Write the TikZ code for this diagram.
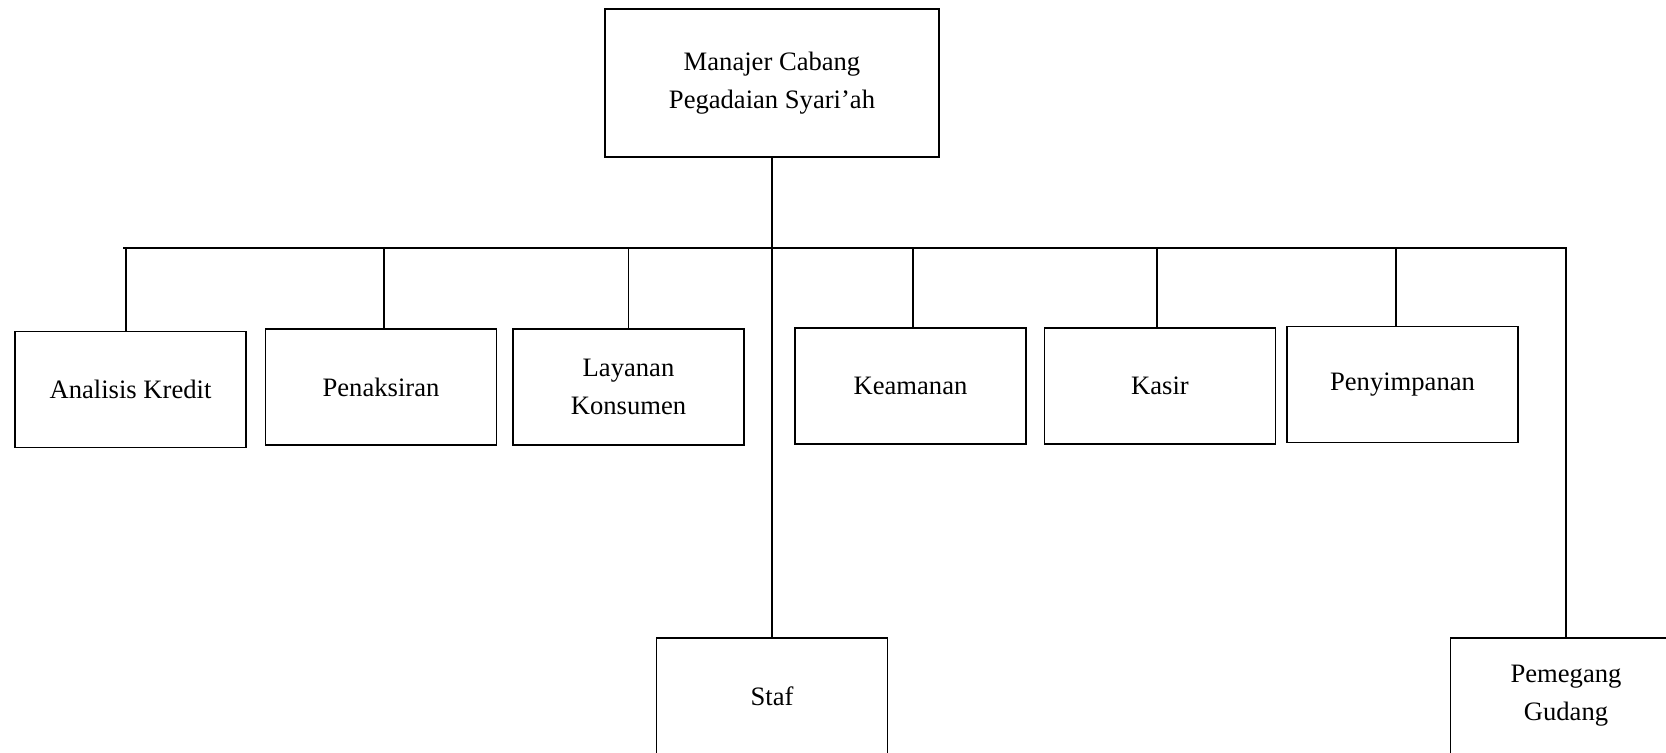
\documentclass[tikz,border=0pt]{standalone}
\usepackage{fontspec}
\setmainfont{Liberation Serif}
\usetikzlibrary{positioning}

\begin{document}
\begin{tikzpicture}[x=0.5pt,y=-0.5pt,
	line width=0.75pt,
	jabatan/.style={draw,rectangle,minimum width=115.5pt,minimum height=58pt,
		align=center,inner sep=0pt,font=\fontsize{13.3}{19}\selectfont},]
	\useasboundingbox (0,0) rectangle (1666,752);
	\clip (0,0) rectangle (1666,752);
	\node [jabatan,minimum width=167pt,minimum height=74pt] (manajer) at (772,83) {Manajer Cabang\\Pegadaian Syari’ah};
	\node [jabatan] (analisis) at (130.5,389.5) {Analisis Kredit};
	\node [jabatan] (penaksiran) at (381,387) {Penaksiran};
	\node [jabatan] (layanan) at (628.5,387) {Layanan\\Konsumen};
	\node [jabatan] (keamanan) at (910.5,386) {Keamanan};
	\node [jabatan] (kasir) at (1160,386) {Kasir};
	\node [jabatan] (penyimpanan) at (1402.5,384.5) {Penyimpanan};
	\node [jabatan] (staf) at (772,696) {Staf};
	\node [jabatan] (gudang) at (1566,696) {Pemegang\\Gudang};
	\coordinate (kiri) at (123,248);
	\draw (manajer) -- (staf);
	\draw (kiri) -| (gudang);
	\draw ([xshift=-2.25pt]analisis.north) -- ([xshift=-2.25pt]analisis.north |- kiri);
	\draw ([xshift=1.5pt]penaksiran.north) -- ([xshift=1.5pt]penaksiran.north |- kiri);
	\draw (layanan) -- (layanan |- kiri);
	\draw ([xshift=1.25pt]keamanan.north) -- ([xshift=1.25pt]keamanan.north |- kiri);
	\draw ([xshift=-1.5pt]kasir.north) -- ([xshift=-1.5pt]kasir.north |- kiri);
	\draw ([xshift=-3.25pt]penyimpanan.north) -- ([xshift=-3.25pt]penyimpanan.north |- kiri);
\end{tikzpicture}
\end{document}
